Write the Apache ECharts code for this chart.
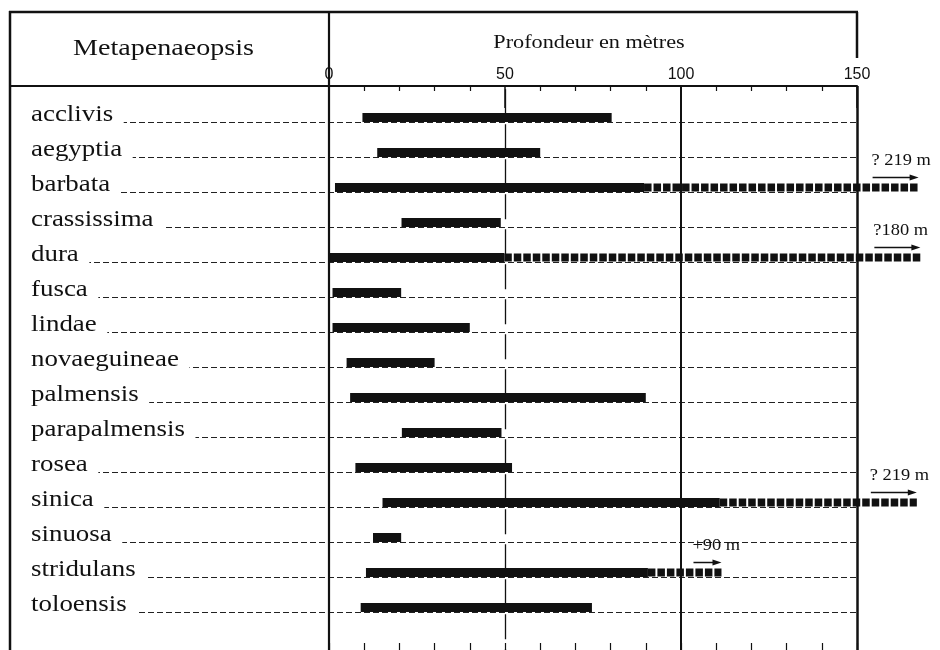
<!DOCTYPE html>
<html>
<head>
<meta charset="utf-8">
<title>Metapenaeopsis - profondeur</title>
<script src="https://cdn.jsdelivr.net/npm/echarts@6/dist/echarts.min.js"></script>
<style>
html, body { margin: 0; padding: 0; background: #fff; }
#chart { width: 940px; height: 650px; }
</style>
</head>
<body>
<div id="chart"></div>
<script>
// espèces (une ligne chacune)
var species = ['acclivis', 'aegyptia', 'barbata', 'crassissima', 'dura', 'fusca', 'lindae',
  'novaeguineae', 'palmensis', 'parapalmensis', 'rosea', 'sinica', 'sinuosa', 'stridulans', 'toloensis'];
// profondeur (m) : trait plein
var depthMin = [9.5, 13.7, 1.7, 20.6, 0, 1, 1, 5, 6, 20.7, 7.5, 15.2, 12.5, 10.5, 9];
var depthMax = [80.3, 60, 89.5, 48.8, 49.8, 20.5, 40, 30, 90, 49, 52, 111, 20.5, 90.6, 74.7];
// prolongement en tirets (null = aucun)
var depthExt = [null, null, 167.5, null, 168, null, null, null, null, null, null, 167, null, 111.5, null];
var extNotes = [null, null, '? 219 m', null, '?180 m', null, null, null, null, null, null, '? 219 m', null, '+90 m', null];
// graduations
var depthTicks = [0, 50, 100, 150];

var INK = '#111';

function renderRow(params, api) {
  var i = api.value(0);
  var lo = api.coord([api.value(1), i]);
  var hi = api.coord([api.value(2), i]);
  var end = api.coord([depthTicks[3], i]);
  var cy = lo[1];
  var base = Math.round(cy + 4.5) + 0.5;
  var kids = [
    {
      type: 'line',
      shape: { x1: 31, y1: base, x2: end[0], y2: base },
      style: { stroke: '#222', lineWidth: 1, lineDash: [6, 3] }
    },
    {
      type: 'text',
      x: 31, y: base - 8, scaleX: 1.17,
      style: {
        text: species[i], fontSize: 23, fontFamily: 'Liberation Serif', fill: INK,
        align: 'left', verticalAlign: 'middle', backgroundColor: '#fff', padding: [0, 9, 0, 0]
      }
    },
    {
      type: 'rect',
      shape: { x: lo[0], y: cy - 4.5, width: hi[0] - lo[0], height: 9 },
      style: { fill: INK }
    }
  ];
  var ext = api.value(3);
  if (!isNaN(ext)) {
    var e = api.coord([ext, i]);
    kids.push({
      type: 'line',
      shape: { x1: hi[0], y1: cy, x2: e[0], y2: cy },
      style: { stroke: INK, lineWidth: 8, lineDash: [7.5, 2] }
    });
    var len = ext > depthTicks[3] ? 46 : 28;
    var ay = cy - 10;
    kids.push({
      type: 'line',
      shape: { x1: e[0] - len, y1: ay, x2: e[0] - 6, y2: ay },
      style: { stroke: INK, lineWidth: 1.5 }
    });
    kids.push({
      type: 'polygon',
      shape: { points: [[e[0] - 9, ay - 3], [e[0], ay], [e[0] - 9, ay + 3]] },
      style: { fill: INK }
    });
    kids.push({
      type: 'text',
      x: e[0] - len - 1, y: cy - 21 - 5.4, scaleX: 1.15,
      style: {
        text: extNotes[i], fontSize: 16, fontFamily: 'Liberation Serif', fill: INK,
        align: 'left', verticalAlign: 'middle'
      }
    });
  }
  return { type: 'group', children: kids };
}

var chart = echarts.init(document.getElementById('chart'));

chart.setOption({
  animation: false,
  backgroundColor: '#fff',
  grid: { left: 329, right: 83, top: 86, bottom: 0 },
  xAxis: [
    {
      type: 'value',
      position: 'top',
      min: depthTicks[0],
      max: depthTicks[3],
      interval: depthTicks[1] - depthTicks[0],
      axisLine: { show: true, onZero: false, lineStyle: { color: INK, width: 2 } },
      axisTick: { show: true, inside: true, length: 22, lineStyle: { color: INK, width: 1.5 } },
      minorTick: { show: true, splitNumber: 5, length: 5, lineStyle: { color: INK, width: 1.2 } },
      axisLabel: { show: true, margin: 3, fontSize: 16, fontFamily: 'Liberation Sans', color: INK },
      splitLine: { show: false }
    },
    {
      type: 'value',
      position: 'bottom',
      min: depthTicks[0],
      max: depthTicks[3],
      interval: depthTicks[1] - depthTicks[0],
      axisLine: { show: false, onZero: false },
      axisTick: { show: true, inside: true, length: 7, lineStyle: { color: INK, width: 1.2 } },
      minorTick: { show: true, splitNumber: 5, length: 7, lineStyle: { color: INK, width: 1.2 } },
      axisLabel: { show: false },
      splitLine: { show: false }
    }
  ],
  yAxis: {
    type: 'value',
    inverse: true,
    min: -0.9,
    max: 15.214,
    show: false
  },
  graphic: [
    { type: 'line', silent: true, shape: { x1: 9, y1: 12, x2: 858, y2: 12 }, style: { stroke: INK, lineWidth: 2.5 } },
    { type: 'line', silent: true, shape: { x1: 10, y1: 11, x2: 10, y2: 650 }, style: { stroke: INK, lineWidth: 2.5 } },
    { type: 'line', silent: true, shape: { x1: 10, y1: 86, x2: 329, y2: 86 }, style: { stroke: INK, lineWidth: 2 } },
    { type: 'line', silent: true, shape: { x1: 329, y1: 12, x2: 329, y2: 86 }, style: { stroke: INK, lineWidth: 2.2 } },
    { type: 'line', silent: true, shape: { x1: 857, y1: 12, x2: 857, y2: 58 }, style: { stroke: INK, lineWidth: 2.5 } },
    {
      type: 'text', silent: true, x: 163.5, y: 48.4, scaleX: 1.17,
      style: { text: 'Metapenaeopsis', fontSize: 24, fontFamily: 'Liberation Serif', fill: INK, align: 'center', verticalAlign: 'middle' }
    },
    {
      type: 'text', silent: true, x: 589, y: 43.1, scaleX: 1.17,
      style: { text: 'Profondeur en mètres', fontSize: 19, fontFamily: 'Liberation Serif', fill: INK, align: 'center', verticalAlign: 'middle' }
    }
  ],
  series: [
    {
      type: 'custom',
      xAxisIndex: 0,
      renderItem: renderRow,
      clip: false,
      silent: true,
      encode: { x: [1, 2, 3], y: 0 },
      data: species.map(function (s, i) {
        return [i, depthMin[i], depthMax[i], depthExt[i] == null ? '-' : depthExt[i]];
      }),
      markLine: {
        silent: true,
        symbol: 'none',
        label: { show: false },
        lineStyle: { color: INK, type: 'solid' },
        data: [
          { xAxis: depthTicks[0], lineStyle: { width: 2.2 } },
          { xAxis: depthTicks[1], lineStyle: { width: 1.3, type: [25, 10], dashOffset: 31.8 } },
          { xAxis: depthTicks[2], lineStyle: { width: 2 } },
          { xAxis: depthTicks[3], lineStyle: { width: 2.5 } }
        ]
      }
    }
  ]
});

window.addEventListener('resize', function () {
  chart.resize();
});
</script>
</body>
</html>
